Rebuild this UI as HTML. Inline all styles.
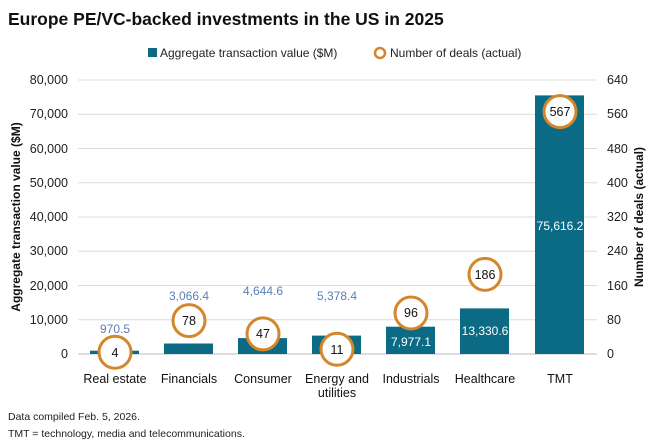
<!DOCTYPE html>
<html><head><meta charset="utf-8"><style>
body{margin:0;background:#fff;width:647px;height:440px;overflow:hidden;font-family:"Liberation Sans",sans-serif;}
</style></head><body>
<svg width="647" height="440" xmlns="http://www.w3.org/2000/svg" font-family="Liberation Sans, sans-serif">
<text x="8" y="25" font-size="17.5" font-weight="bold" fill="#111">Europe PE/VC-backed investments in the US in 2025</text>
<rect x="148" y="48" width="9" height="9" fill="#0b6a84"/>
<text x="160" y="57" font-size="12" fill="#222">Aggregate transaction value ($M)</text>
<circle cx="380" cy="53" r="5" fill="#fff" stroke="#d4862a" stroke-width="2.5"/>
<text x="390" y="57" font-size="12" fill="#222">Number of deals (actual)</text>
<g stroke="#dcdcdc" stroke-width="1">
<line x1="78" x2="597" y1="80" y2="80"/><line x1="78" x2="597" y1="114.2" y2="114.2"/>
<line x1="78" x2="597" y1="148.5" y2="148.5"/><line x1="78" x2="597" y1="182.7" y2="182.7"/>
<line x1="78" x2="597" y1="217" y2="217"/><line x1="78" x2="597" y1="251.2" y2="251.2"/>
<line x1="78" x2="597" y1="285.5" y2="285.5"/><line x1="78" x2="597" y1="319.7" y2="319.7"/>
</g>
<line x1="78" x2="597" y1="354" y2="354" stroke="#bbb"/>
<g font-size="12.5" fill="#222" text-anchor="end">
<text x="68" y="84">80,000</text><text x="68" y="118">70,000</text><text x="68" y="153">60,000</text>
<text x="68" y="187">50,000</text><text x="68" y="221">40,000</text><text x="68" y="255">30,000</text>
<text x="68" y="290">20,000</text><text x="68" y="324">10,000</text><text x="68" y="358">0</text>
</g>
<g font-size="12.5" fill="#222">
<text x="607" y="84">640</text><text x="607" y="118">560</text><text x="607" y="153">480</text>
<text x="607" y="187">400</text><text x="607" y="221">320</text><text x="607" y="255">240</text>
<text x="607" y="290">160</text><text x="607" y="324">80</text><text x="607" y="358">0</text>
</g>
<text transform="translate(20,217) rotate(-90)" text-anchor="middle" font-size="12" font-weight="bold" fill="#111">Aggregate transaction value ($M)</text>
<text transform="translate(643,217) rotate(-90)" text-anchor="middle" font-size="12" font-weight="bold" fill="#111">Number of deals (actual)</text>
<g fill="#0b6a84">
<rect x="90" y="350.7" width="49" height="3.3"/>
<rect x="164" y="343.5" width="49" height="10.5"/>
<rect x="238" y="338.1" width="49" height="15.9"/>
<rect x="312" y="335.6" width="49" height="18.4"/>
<rect x="386" y="326.7" width="49" height="27.3"/>
<rect x="460" y="308.4" width="49" height="45.6"/>
<rect x="535" y="95.4" width="49" height="258.6"/>
</g>
<g font-size="12" fill="#5b7fb5" text-anchor="middle">
<text x="115" y="333">970.5</text><text x="189" y="300">3,066.4</text><text x="263" y="295">4,644.6</text>
<text x="337" y="300">5,378.4</text>
</g>
<g font-size="12" fill="#fff" text-anchor="middle">
<text x="411" y="346">7,977.1</text><text x="485" y="335">13,330.6</text><text x="560" y="230">75,616.2</text>
</g>
<g fill="#fff" stroke="#d4862a" stroke-width="3">
<circle cx="115" cy="352.3" r="16"/><circle cx="189" cy="320.6" r="16"/><circle cx="263" cy="333.9" r="16"/>
<circle cx="337" cy="349.3" r="16"/><circle cx="411" cy="313" r="16"/><circle cx="485" cy="274.4" r="16"/>
<circle cx="560" cy="111.6" r="16"/>
</g>
<g font-size="12.5" fill="#111" text-anchor="middle">
<text x="115" y="357">4</text><text x="189" y="325">78</text><text x="263" y="338">47</text>
<text x="337" y="354">11</text><text x="411" y="317">96</text><text x="485" y="279">186</text><text x="560" y="116">567</text>
</g>
<g font-size="12.5" fill="#111" text-anchor="middle">
<text x="115" y="383">Real estate</text><text x="189" y="383">Financials</text><text x="263" y="383">Consumer</text>
<text x="337" y="383">Energy and</text><text x="337" y="397">utilities</text>
<text x="411" y="383">Industrials</text><text x="485" y="383">Healthcare</text><text x="560" y="383">TMT</text>
</g>
<text x="8" y="420" font-size="10.5" fill="#222">Data compiled Feb. 5, 2026.</text>
<text x="8" y="437" font-size="10.5" fill="#222">TMT = technology, media and telecommunications.</text>
</svg>
</body></html>
